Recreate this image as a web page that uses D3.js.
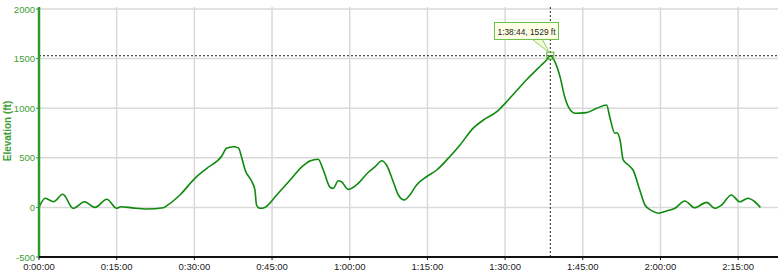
<!DOCTYPE html>
<html>
<head>
<meta charset="utf-8">
<script src="https://cdn.jsdelivr.net/npm/d3@7"></script>
<style>
  html, body { margin: 0; padding: 0; background: #fff; }
  svg { display: block; font-family: "Liberation Sans", Arial, sans-serif; }
</style>
</head>
<body>
<svg id="chart" width="778" height="276"></svg>
<script>
(function () {
  "use strict";

  // elapsed time (minutes) and elevation (ft)
  const timeMin = [0, 1.2, 2.8, 4.6, 6.6, 8.8, 10.8, 13.1, 15.0, 15.8, 18, 20.8, 24, 24.7,
    27.2, 30.1, 32.4, 35.3, 36.2, 37.5, 38.5, 39.1, 39.8, 41.1, 41.7, 42.0, 42.7, 43.6,
    45.9, 48.5, 51.0, 52.3, 53.9, 54.9, 56.2, 56.8, 57.8, 58.4, 59.7, 61.3, 63.6, 64.9,
    66.2, 67.1, 68.4, 69.4, 70.5, 71.6, 72.9, 74.8, 76.8, 79.3, 81.3, 83.8, 85.8, 88.4,
    90.0, 91.6, 92.9, 94.1, 97.0, 98.0, 98.73, 99.6, 100.6, 101.5, 102.2, 103.5, 105.7,
    107.7, 109.6, 110.2, 111.2, 111.6, 112.2, 112.8, 113.8, 114.7, 116.0, 117.0, 118.3,
    119.6, 121.2, 122.8, 124.7, 126.6, 128.9, 130.5, 131.8, 133.7, 135.3, 136.9, 138.2, 139.3];
  const elevFt = [0, 92, 58, 132, -9, 57, 0, 82, -9, 7, -5, -16, -3, 18,
    125, 293, 394, 518, 596, 612, 600, 511, 377, 259, 175, 24, -9, 0,
    125, 276, 420, 468, 485, 377, 203, 192, 269, 259, 182, 226, 354, 410,
    471, 427, 259, 125, 75, 125, 226, 309, 377, 511, 629, 797, 881, 965,
    1049, 1140, 1217, 1284, 1435, 1486, 1529, 1469, 1318, 1116, 1015, 949, 955,
    999, 1032, 914, 747, 753, 679, 478, 427, 377, 175, 24, -33,
    -59, -36, -9, 65, -3, 51, -9, 24, 125, 57, 92, 57, 0];

  const yTicks = [-500, 0, 500, 1000, 1500, 2000];
  const xTicksMin = [0, 15, 30, 45, 60, 75, 90, 105, 120, 135];
  const peakMin = 98.73, peakFt = 1529;
  const peakLabel = "1:38:44, 1529 ft";

  const svg = d3.select("#chart");
  const left = 39, right = 777, top = 9, bottom = 257;

  const x = d3.scaleLinear().domain([0, 142.5]).range([left, right]);
  const y = d3.scaleLinear().domain([-500, 2000]).range([bottom, top]);

  function fmtTime(m) {
    const s = Math.round(m * 60);
    const h = Math.floor(s / 3600);
    const mm = Math.floor((s % 3600) / 60);
    const ss = s % 60;
    return h + ":" + String(mm).padStart(2, "0") + ":" + String(ss).padStart(2, "0");
  }

  // grid
  const grid = svg.append("g").attr("stroke", "#d9d9d9").attr("stroke-width", 1.5);
  grid.selectAll("line.h").data(yTicks).join("line")
    .attr("x1", left).attr("x2", right + 1)
    .attr("y1", (d) => y(d)).attr("y2", (d) => y(d));
  grid.selectAll("line.v").data(xTicksMin.slice(1)).join("line")
    .attr("x1", (d) => x(d)).attr("x2", (d) => x(d))
    .attr("y1", top - 2).attr("y2", bottom);

  // crosshair
  svg.append("line")
    .attr("x1", left).attr("x2", right + 1)
    .attr("y1", y(peakFt)).attr("y2", y(peakFt))
    .attr("stroke", "#222").attr("stroke-dasharray", "2,2");
  svg.append("line")
    .attr("x1", x(peakMin)).attr("x2", x(peakMin))
    .attr("y1", top - 2).attr("y2", bottom)
    .attr("stroke", "#222").attr("stroke-dasharray", "2,2");

  // profile line
  const line = d3.line()
    .x((d, i) => x(timeMin[i]))
    .y((d) => y(d))
    .curve(d3.curveMonotoneX);
  svg.append("path")
    .datum(elevFt)
    .attr("d", line)
    .attr("fill", "none")
    .attr("stroke", "#0f8a0f")
    .attr("stroke-width", 1.6);

  // peak marker
  const px = x(peakMin), py = y(peakFt);
  svg.append("rect")
    .attr("x", px - 3.5).attr("y", py - 3.5).attr("width", 7).attr("height", 7)
    .attr("fill", "none").attr("stroke", "#4caf2a").attr("stroke-width", 1);

  // tooltip callout
  const bx = 494.5, by = 22.5, bw = 64, bh = 17;
  svg.append("path")
    .attr("d", `M${bx + 38},${by + bh} L${px - 1},${py - 3} L${bx + 48},${by + bh} Z`)
    .attr("fill", "#f2fbd6").attr("stroke", "#8fd06a").attr("stroke-width", 1);
  svg.append("rect")
    .attr("x", bx).attr("y", by).attr("width", bw).attr("height", bh)
    .attr("fill", "#ffffe6").attr("stroke", "#6cc24a").attr("stroke-width", 1);
  svg.append("text")
    .attr("x", bx + bw / 2).attr("y", by + 12)
    .attr("text-anchor", "middle")
    .attr("font-size", 9).attr("fill", "#222")
    .attr("textLength", bw - 6).attr("lengthAdjust", "spacingAndGlyphs")
    .text(peakLabel);

  // y axis
  const yAxis = svg.append("g");
  yAxis.append("line")
    .attr("x1", left).attr("x2", left).attr("y1", top - 2).attr("y2", bottom)
    .attr("stroke", "#2f9a2f").attr("stroke-width", 2.5);
  yAxis.selectAll("line.t").data(yTicks).join("line")
    .attr("x1", left - 3).attr("x2", left)
    .attr("y1", (d) => y(d)).attr("y2", (d) => y(d))
    .attr("stroke", "#2f9a2f").attr("stroke-width", 1);
  yAxis.selectAll("text").data(yTicks).join("text")
    .attr("x", left - 4).attr("y", (d) => y(d) + 3.5)
    .attr("text-anchor", "end")
    .attr("font-size", 9.5).attr("fill", "#3e9e34")
    .text((d) => d);
  svg.append("text")
    .attr("transform", `translate(11,${(top + bottom) / 2 - 2}) rotate(-90)`)
    .attr("text-anchor", "middle")
    .attr("font-size", 10).attr("font-weight", "bold").attr("fill", "#3e9e34")
    .text("Elevation (ft)");

  // x axis
  const xAxis = svg.append("g");
  xAxis.append("line")
    .attr("x1", left).attr("x2", 778).attr("y1", bottom).attr("y2", bottom)
    .attr("stroke", "#111").attr("stroke-width", 2);
  xAxis.selectAll("line.t").data(xTicksMin).join("line")
    .attr("x1", (d) => x(d)).attr("x2", (d) => x(d))
    .attr("y1", bottom).attr("y2", bottom + 3)
    .attr("stroke", "#111").attr("stroke-width", 1);
  xAxis.selectAll("text").data(xTicksMin).join("text")
    .attr("x", (d) => x(d)).attr("y", bottom + 13)
    .attr("text-anchor", "middle")
    .attr("font-size", 9.5).attr("fill", "#222")
    .text((d) => fmtTime(d));
})();
</script>
</body>
</html>
